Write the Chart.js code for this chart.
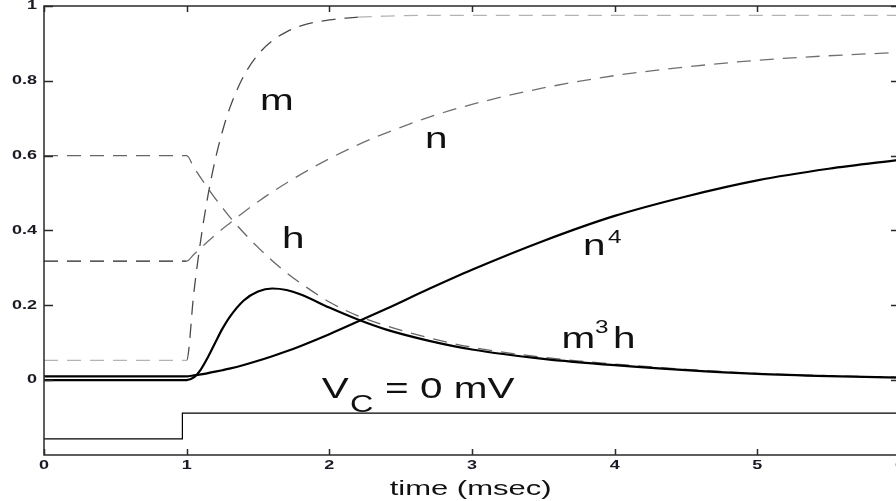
<!DOCTYPE html>
<html>
<head>
<meta charset="utf-8">
<title>Gating variables under voltage clamp</title>
<script src="https://cdn.jsdelivr.net/npm/chart.js@4/dist/chart.umd.min.js"></script>
<style>
  html, body { margin: 0; padding: 0; background: #fff; overflow: hidden; }
  #wrap { width: 896px; height: 501px; overflow: hidden; }
</style>
</head>
<body>
<div id="wrap"><canvas id="gates" width="904" height="501"></canvas></div>
<script>
let myChart = null;

// time samples (msec), shared by all gating curves
const TIME = [0, 1, 1.05, 1.1, 1.15, 1.2, 1.25, 1.3, 1.4, 1.5, 1.6, 1.7, 1.8,
  2.0, 2.2, 2.4, 2.7, 3.0, 3.5, 4.0, 4.5, 5.0, 5.5, 6.0];

const M_GATE = [0.053, 0.053, 0.233, 0.378, 0.495, 0.589, 0.664, 0.725, 0.813, 0.870, 0.907, 0.931, 0.947,
  0.963, 0.970, 0.973, 0.975, 0.975, 0.975, 0.975, 0.975, 0.975, 0.975, 0.975];

const H_GATE = [0.6, 0.6, 0.569, 0.540, 0.512, 0.486, 0.461, 0.437, 0.394, 0.355, 0.319, 0.287, 0.259,
  0.209, 0.172, 0.145, 0.113, 0.088, 0.061, 0.043, 0.029, 0.018, 0.012, 0.008];

const N_GATE = [0.318, 0.318, 0.336, 0.354, 0.371, 0.388, 0.404, 0.419, 0.449, 0.477, 0.503, 0.527, 0.550,
  0.592, 0.629, 0.661, 0.703, 0.737, 0.781, 0.814, 0.837, 0.855, 0.867, 0.876];

const N4 = [0.0102, 0.0102, 0.0128, 0.0157, 0.0190, 0.0227, 0.0266, 0.0308, 0.0406, 0.0518, 0.064, 0.0771, 0.0915,
  0.1228, 0.1565, 0.1909, 0.2442, 0.295, 0.372, 0.439, 0.491, 0.534, 0.565, 0.589];

const M3H = [0.0001, 0.0001, 0.0072, 0.029, 0.062, 0.100, 0.137, 0.168, 0.213, 0.237, 0.245, 0.241, 0.229,
  0.194, 0.162, 0.135, 0.105, 0.082, 0.057, 0.040, 0.027, 0.017, 0.011, 0.007];

// clamp command trace
const VC_TIME = [0, 0.97, 6];
const VC_LEVEL = [-0.157, -0.088, -0.088];

const X_TICKS = [0, 1, 2, 3, 4, 5, 6];
const X_TICK_LABELS = ["0", "1", "2", "3", "4", "5", "6"];
const Y_TICKS = [0, 0.2, 0.4, 0.6, 0.8, 1];
const Y_TICK_LABELS = ["0", "0.2", "0.4", "0.6", "0.8", "1"];

const FONT = '"Liberation Sans", Arial, sans-serif';

// curve annotations, placed in data units
const CONFIG_LABELS = [
  { text: "m", t: 1.514, v: 0.722, size: 30 },
  { text: "n", t: 2.67, v: 0.621, size: 30 },
  { text: "h", t: 1.668, v: 0.353, size: 30 },
  { text: "n", t: 3.778, v: 0.335, size: 30 },
  { text: "4", t: 3.953, v: 0.366, size: 18 },
  { text: "m", t: 3.628, v: 0.086, size: 30 },
  { text: "3", t: 3.862, v: 0.126, size: 18 },
  { text: "h", t: 3.988, v: 0.086, size: 30 },
  { text: "V", t: 1.946, v: -0.048, size: 30 },
  { text: "C", t: 2.145, v: -0.084, size: 24 },
  { text: "= 0 mV", t: 2.39, v: -0.048, size: 30 },
];

function wideText(ctx, str, x, y, font, sx, align, baseline) {
  ctx.save();
  ctx.translate(x, y);
  ctx.scale(sx, 1);
  ctx.font = font;
  ctx.textAlign = align;
  ctx.textBaseline = baseline;
  ctx.fillText(str, 0, 0);
  ctx.restore();
}

// box, inward ticks and all text
const frameAndText = {
  id: "frameAndText",
  afterDatasetsDraw(chart) {
    const { ctx, chartArea: a, scales: { x, y } } = chart;
    ctx.save();
    ctx.strokeStyle = "#2a2a2a";
    ctx.lineWidth = 1.5;
    ctx.strokeRect(a.left, a.top, a.right - a.left, a.bottom - a.top);

    ctx.beginPath();
    X_TICKS.forEach((v) => {
      const px = Math.round(x.getPixelForValue(v)) + 0.5;
      ctx.moveTo(px, a.bottom);
      ctx.lineTo(px, a.bottom - 6);
      ctx.moveTo(px, a.top);
      ctx.lineTo(px, a.top + 6);
    });
    Y_TICKS.forEach((v) => {
      const py = Math.round(y.getPixelForValue(v)) + 0.5;
      ctx.moveTo(a.left, py);
      ctx.lineTo(a.left + 9, py);
      ctx.moveTo(a.right, py);
      ctx.lineTo(a.right - 9, py);
    });
    ctx.stroke();

    ctx.fillStyle = "#1a1a24";
    const tickFont = "bold 12px " + FONT;
    X_TICKS.forEach((v, i) => {
      wideText(ctx, X_TICK_LABELS[i], x.getPixelForValue(v), a.bottom + 11, tickFont, 1.5, "center", "middle");
    });
    Y_TICKS.forEach((v, i) => {
      wideText(ctx, Y_TICK_LABELS[i], a.left - 7, y.getPixelForValue(v), tickFont, 1.5, "right", "middle");
    });

    ctx.fillStyle = "#111";
    wideText(ctx, "time (msec)", x.getPixelForValue(2.99), a.bottom + 40, "20px " + FONT, 1.55, "center", "alphabetic");

    CONFIG_LABELS.forEach((l) => {
      wideText(ctx, l.text, x.getPixelForValue(l.t), y.getPixelForValue(l.v),
        l.size + "px " + FONT, 1.35, "left", "alphabetic");
    });
    ctx.restore();
  },
};

function series(values, color, dashed, width) {
  return {
    data: TIME.map((t, i) => ({ x: t, y: values[i] })),
    borderColor: color,
    borderWidth: width,
    borderDash: dashed ? [14, 9] : [],
    pointRadius: 0,
    cubicInterpolationMode: "monotone",
    fill: false,
  };
}

function flat(c) {
  return Math.abs(c.p1.parsed.y - c.p0.parsed.y) < 0.004;
}

function drawChart() {
  const mLine = series(M_GATE, "#4a4a4a", true, 1.3);
  mLine.segment = { borderColor: (c) => (flat(c) ? "#b3b3b3" : "#4a4a4a") };
  const nLine = series(N_GATE, "#707070", true, 1.3);
  nLine.segment = { borderColor: (c) => (flat(c) ? "#222" : "#707070") };
  const hLine = series(H_GATE, "#666", true, 1.3);

  const ctx = document.getElementById("gates");
  myChart = new Chart(ctx, {
    type: "line",
    data: {
      datasets: [
        series(M3H, "#000", false, 2.2),
        series(N4, "#000", false, 2.2),
        mLine,
        hLine,
        nLine,
        {
          data: VC_TIME.map((t, i) => ({ x: t, y: VC_LEVEL[i] })),
          borderColor: "#000",
          borderWidth: 1.2,
          stepped: true,
          pointRadius: 0,
          fill: false,
        },
      ],
    },
    options: {
      responsive: false,
      animation: false,
      layout: { padding: { left: 44, top: 6, right: 4, bottom: 46 } },
      plugins: { legend: { display: false }, tooltip: { enabled: false } },
      scales: {
        x: { type: "linear", min: 0, max: 6, display: false },
        y: { min: -0.2, max: 1, display: false },
      },
    },
    plugins: [frameAndText],
  });
}

drawChart();
</script>
</body>
</html>
